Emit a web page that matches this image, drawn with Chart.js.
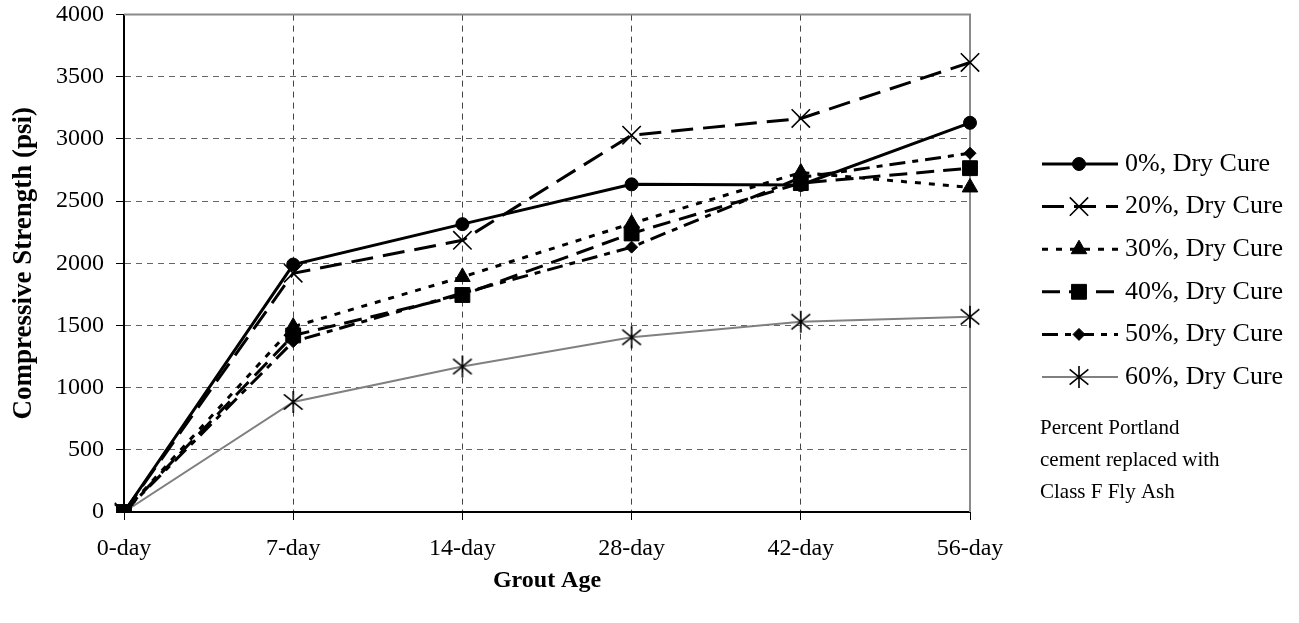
<!DOCTYPE html>
<html>
<head>
<meta charset="utf-8">
<script src="https://cdn.jsdelivr.net/npm/chart.js@4.4.0/dist/chart.umd.min.js"></script>
<style>
html, body { margin: 0; padding: 0; background: #fff; }
#wrap { width: 1299px; height: 623px; }
</style>
</head>
<body>
<div id="wrap"><canvas id="strengthChart" width="1299" height="623"></canvas></div>
<script>
// grout age categories and compressive strength (psi) per fly ash replacement
const ages = ['0-day', '7-day', '14-day', '28-day', '42-day', '56-day'];
const dry0 = [0, 1990, 2315, 2635, 2630, 3130];
const dry20 = [0, 1920, 2185, 3030, 3165, 3615];
const dry30 = [0, 1490, 1890, 2320, 2730, 2610];
const dry40 = [0, 1420, 1745, 2240, 2645, 2765];
const dry50 = [0, 1370, 1760, 2130, 2690, 2885];
const dry60 = [0, 885, 1170, 1405, 1530, 1570];
const seriesLabels = ['0%, Dry Cure', '20%, Dry Cure', '30%, Dry Cure', '40%, Dry Cure', '50%, Dry Cure', '60%, Dry Cure'];
const noteLines = ['Percent Portland', 'cement replaced with', 'Class F Fly Ash'];

const serif = '"Liberation Serif", "Times New Roman", serif';

// asterisk marker (X with a vertical bar), like the spreadsheet one
function makeAsterisk(r) {
    const c = document.createElement('canvas');
    const s = Math.ceil(r * 2 + 4);
    c.width = s; c.height = s;
    const g = c.getContext('2d');
    const m = s / 2;
    g.strokeStyle = '#000';
    g.lineWidth = 1.6;
    g.beginPath();
    g.moveTo(m, m - r); g.lineTo(m, m + r);
    g.moveTo(m - r * 0.85, m - r * 0.7); g.lineTo(m + r * 0.85, m + r * 0.7);
    g.moveTo(m - r * 0.85, m + r * 0.7); g.lineTo(m + r * 0.85, m - r * 0.7);
    g.stroke();
    return c;
}
const asterisk = makeAsterisk(11);

function line(label, data, opts) {
    return Object.assign({
        label: label,
        data: data,
        borderColor: '#000',
        borderWidth: 3,
        borderDash: [],
        pointBackgroundColor: '#000',
        pointBorderColor: '#000',
        pointBorderWidth: 1,
        pointRadius: 6,
        fill: false,
        tension: 0
    }, opts);
}

const datasets = [
    line(seriesLabels[0], dry0, { pointStyle: 'circle', pointRadius: 6.5 }),
    line(seriesLabels[1], dry20, { borderDash: [22, 10], pointStyle: 'crossRot', pointRadius: 13, pointBorderWidth: 1.6 }),
    line(seriesLabels[2], dry30, { borderDash: [6, 8], pointStyle: 'triangle', pointRadius: 9 }),
    line(seriesLabels[3], dry40, { borderDash: [18, 9], pointStyle: 'rect', pointRadius: 10.5 }),
    line(seriesLabels[4], dry50, { borderDash: [16, 7, 6, 7], pointStyle: 'rectRot', pointRadius: 6 }),
    line(seriesLabels[5], dry60, { borderColor: '#808080', borderWidth: 2, pointStyle: asterisk, pointRadius: 11 })
];

// grey frame on top and right of the plot
const frame = {
    id: 'frame',
    beforeDatasetsDraw(chart) {
        const a = chart.chartArea, ctx = chart.ctx;
        ctx.save();
        ctx.strokeStyle = '#8a8a8a';
        ctx.lineWidth = 2;
        ctx.beginPath();
        ctx.moveTo(a.left, a.top);
        ctx.lineTo(a.right, a.top);
        ctx.lineTo(a.right, a.bottom);
        ctx.stroke();
        ctx.restore();
    }
};

// legend on the right with line sample + marker, then the note
const sideLegend = {
    id: 'sideLegend',
    afterDraw(chart) {
        const ctx = chart.ctx;
        const top = 164, gap = 42.6;
        chart.data.datasets.forEach((ds, i) => {
            const y = top + i * gap;
            ctx.save();
            ctx.strokeStyle = ds.borderColor;
            ctx.lineWidth = ds.borderWidth;
            ctx.setLineDash(ds.borderDash);
            ctx.beginPath();
            ctx.moveTo(1042, y);
            ctx.lineTo(1118, y);
            ctx.stroke();
            ctx.setLineDash([]);
            ctx.fillStyle = ds.pointBackgroundColor;
            ctx.strokeStyle = ds.pointBorderColor;
            ctx.lineWidth = ds.pointBorderWidth;
            Chart.helpers.drawPoint(ctx, {
                pointStyle: ds.pointStyle,
                radius: ds.pointRadius,
                rotation: 0,
                borderWidth: ds.pointBorderWidth
            }, 1079, y);
            ctx.fillStyle = '#000';
            ctx.font = '26px ' + serif;
            ctx.textBaseline = 'middle';
            ctx.textAlign = 'left';
            ctx.fillText(ds.label, 1125, y);
            ctx.restore();
        });
        ctx.save();
        ctx.fillStyle = '#000';
        ctx.font = '21px ' + serif;
        ctx.textBaseline = 'middle';
        noteLines.forEach((t, i) => ctx.fillText(t, 1040, 428 + i * 32));
        ctx.restore();
    }
};

const ctx = document.getElementById('strengthChart').getContext('2d');
const myChart = new Chart(ctx, {
    type: 'line',
    data: { labels: ages, datasets: datasets },
    plugins: [frame, sideLegend],
    options: {
        responsive: false,
        animation: false,
        devicePixelRatio: 1,
        layout: { padding: { left: 0, top: 13, right: 329, bottom: 0 } },
        plugins: {
            legend: { display: false },
            tooltip: { enabled: false }
        },
        scales: {
            x: {
                offset: false,
                afterFit: (s) => { s.height = 111; s.paddingTop = 0; },
                grid: { color: '#444', lineWidth: 1, tickLength: 8, tickColor: '#000', tickBorderDash: [] },
                border: { color: '#000', width: 2, dash: [6, 5] },
                ticks: { color: '#000', padding: 14, maxRotation: 0, font: { family: serif, size: 24 } },
                title: { display: true, text: 'Grout Age', color: '#000', padding: { top: 0, bottom: 28 }, font: { family: serif, size: 24, weight: 'bold' } }
            },
            y: {
                min: 0,
                max: 4000,
                afterFit: (s) => { s.width = 124; s.paddingTop = 0; },
                grid: { color: '#666', lineWidth: 1, tickLength: 8, tickColor: '#000', tickBorderDash: [] },
                border: { color: '#000', width: 2, dash: [6, 5] },
                ticks: { stepSize: 500, color: '#000', padding: 12, font: { family: serif, size: 24 }, callback: (v) => String(v) },
                title: { display: true, text: 'Compressive Strength (psi)', color: '#000', padding: { top: 8, bottom: 0 }, font: { family: serif, size: 27, weight: 'bold' } }
            }
        }
    }
});
</script>
</body>
</html>
